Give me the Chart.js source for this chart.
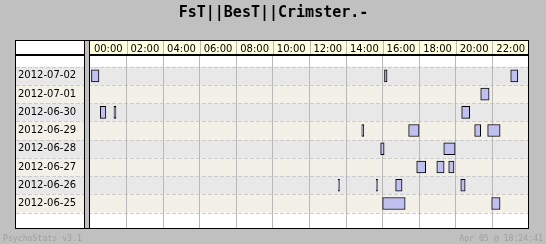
<!DOCTYPE html>
<html>
<head>
<meta charset="utf-8">
<script src="https://cdn.jsdelivr.net/npm/chart.js@4"></script>
<style>
  html, body { margin: 0; padding: 0; background: #c0c0c0; }
  canvas { display: block; }
</style>
</head>
<body>
<canvas id="sessions" width="546" height="244"></canvas>
<script>
const days = ['2012-07-02', '2012-07-01', '2012-06-30', '2012-06-29',
              '2012-06-28', '2012-06-27', '2012-06-26', '2012-06-25'];
const hourTicks = [0, 2, 4, 6, 8, 10, 12, 14, 16, 18, 20, 22];
const hourLabels = ['00:00', '02:00', '04:00', '06:00', '08:00', '10:00',
                    '12:00', '14:00', '16:00', '18:00', '20:00', '22:00'];

// play sessions per day, [start, end] in hours
const day0702 = [[0.08, 0.49], [16.10, 16.24], [23.00, 23.39]];
const day0701 = [[21.36, 21.82]];
const day0630 = [[0.56, 0.87], [1.31, 1.42], [20.32, 20.76]];
const day0629 = [[14.86, 14.97], [17.42, 17.99], [21.03, 21.36], [21.74, 22.42]];
const day0628 = [[15.89, 16.08], [19.34, 19.96]];
const day0627 = [[17.86, 18.35], [18.96, 19.36], [19.61, 19.90]];
const day0626 = [[13.57, 13.64], [15.65, 15.72], [16.71, 17.06], [20.27, 20.51]];
const day0625 = [[16.00, 17.23], [21.96, 22.42]];

const sessionsByDay = [day0702, day0701, day0630, day0629, day0628, day0627, day0626, day0625];
const bars = [];
sessionsByDay.forEach((list, i) => {
    list.forEach(s => bars.push({ x: s, y: i }));
});

const frame = {
    id: 'frame',
    beforeDraw(chart) {
        const c = chart.ctx;
        const xs = chart.scales.x, ys = chart.scales.y;
        c.save();
        c.fillStyle = '#c0c0c0';
        c.fillRect(0, 0, chart.width, chart.height);
        c.fillStyle = '#ffffff';
        c.fillRect(15, 40, 514, 189);
        c.fillStyle = '#ffffe0';
        c.fillRect(xs.left, 41, xs.right - xs.left, 13);
        days.forEach((d, i) => {
            const top = ys.getPixelForValue(i - 0.5);
            const bot = ys.getPixelForValue(i + 0.5);
            c.fillStyle = i % 2 ? '#f3f0e8' : '#e8e8e8';
            c.fillRect(16, top, xs.right - 17, bot - top);
        });
        c.strokeStyle = '#cccccc';
        c.lineWidth = 1;
        c.setLineDash([4, 2]);
        for (let i = 0; i <= days.length; i++) {
            const py = Math.round(ys.getPixelForValue(i - 0.5)) + 0.5;
            c.beginPath();
            c.moveTo(16, py);
            c.lineTo(xs.right - 1, py);
            c.stroke();
        }
        c.restore();
    },
    beforeDatasetsDraw(chart) {
        const c = chart.ctx;
        const xs = chart.scales.x;
        c.save();
        // header cell separators
        c.strokeStyle = '#b8b8b8';
        c.lineWidth = 1;
        hourTicks.slice(1).forEach(v => {
            const px = Math.round(xs.getPixelForValue(v)) + 0.5;
            c.beginPath();
            c.moveTo(px, 41);
            c.lineTo(px, 54);
            c.stroke();
        });
        // thick line under header
        c.fillStyle = '#000';
        c.fillRect(16, 54, 512, 2);
        // double separator between labels and timeline
        c.fillRect(84, 40, 1, 189);
        c.fillStyle = '#c0c0c0';
        c.fillRect(85, 41, 4, 187);
        c.fillStyle = '#000';
        c.fillRect(89, 40, 1, 189);
        // outer frame
        c.strokeStyle = '#000';
        c.strokeRect(15.5, 40.5, 513, 188);
        c.restore();
    },
    afterDraw(chart) {
        const c = chart.ctx;
        c.save();
        c.fillStyle = '#a0a0a0';
        c.font = '8.2px "DejaVu Sans Mono"';
        c.textBaseline = 'alphabetic';
        c.textAlign = 'left';
        c.fillText('PsychoStats v3.1', 3, 241);
        c.textAlign = 'right';
        c.fillText('Apr 05 @ 18:24:41', 543, 241);
        c.restore();
    }
};

const ctx = document.getElementById('sessions').getContext('2d');
const chart = new Chart(ctx, {
    type: 'bar',
    data: {
        datasets: [{
            data: bars,
            backgroundColor: '#c0c0f0',
            borderColor: '#000000',
            borderWidth: 1,
            borderSkipped: false,
            barThickness: 12
        }]
    },
    options: {
        indexAxis: 'y',
        responsive: false,
        animation: false,
        devicePixelRatio: 1,
        layout: { padding: { left: 18, right: 17, top: 0, bottom: 15.5 } },
        scales: {
            x: {
                type: 'linear',
                position: 'top',
                min: 0,
                max: 24,
                afterBuildTicks: scale => { scale.ticks = hourTicks.map(v => ({ value: v })); },
                afterFit: scale => {
                    scale.height = 16;
                    scale.paddingLeft = 0;
                    scale.paddingRight = 0;
                },
                grid: {
                    drawTicks: false,
                    color: c => (c.tick && c.tick.value === 0) ? 'rgba(0,0,0,0)' : '#b8b8b8'
                },
                border: { display: false },
                ticks: {
                    labelOffset: 18.3,
                    padding: 1,
                    maxRotation: 0,
                    autoSkip: false,
                    color: '#000',
                    font: { family: 'DejaVu Sans', size: 10 },
                    callback: (v, i) => hourLabels[i]
                }
            },
            y: {
                type: 'linear',
                reverse: true,
                offset: false,
                min: -1.086,
                max: 8.37,
                afterBuildTicks: scale => { scale.ticks = days.map((d, i) => ({ value: i })); },
                afterFit: scale => {
                    scale.width = 72;
                    scale.paddingTop = 0;
                    scale.paddingBottom = 0;
                },
                grid: { display: false },
                border: { display: false },
                ticks: {
                    crossAlign: 'far',
                    padding: 0,
                    color: '#000',
                    font: { family: 'DejaVu Sans', size: 10 },
                    callback: v => days[v]
                }
            }
        },
        plugins: {
            legend: { display: false },
            tooltip: { enabled: false },
            title: {
                display: true,
                text: 'FsT||BesT||Crimster.-',
                color: '#000',
                font: { family: 'DejaVu Sans Mono', size: 15, weight: 'bold', lineHeight: 1.2 },
                padding: { top: 4, bottom: 18 }
            }
        }
    },
    plugins: [frame]
});
</script>
</body>
</html>
